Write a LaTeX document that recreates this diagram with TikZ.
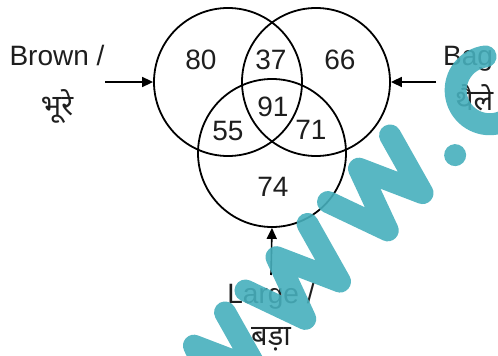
\documentclass[tikz,border=0pt]{standalone}
\usepackage{fontspec}
\setmainfont{Liberation Sans}
\newfontfamily\hindifont[Script=Devanagari]{Noto Sans}
\usetikzlibrary{arrows.meta}
\definecolor{wmteal}{RGB}{70,175,188}
\definecolor{inkgray}{RGB}{30,30,30}

\begin{document}
\begin{tikzpicture}[x=1pt,y=-1pt,
    set/.style={circle, draw, line width=1.8pt, inner sep=0pt, minimum size=148pt},
    region/.style={font=\fontsize{28}{30}\selectfont, text=inkgray, inner sep=0pt},
    tag/.style={font=\fontsize{28}{30}\selectfont, text=inkgray, inner sep=0pt, anchor=base},
    hindi/.style={font=\fontsize{29}{31}\selectfont\hindifont, text=inkgray, inner sep=0pt, anchor=base},
    pointer/.style={line width=1.6pt, -{Triangle[length=11pt,width=10pt]}},
    wm/.style={wmteal, opacity=0.9, line width=22pt, line cap=round, line join=round}]
   \useasboundingbox (0,0) rectangle (498,356);
   % the three sets
   \node[set] (brown) at (228,82)  {};
   \node[set] (bag)   at (316,82)  {};
   \node[set] (large) at (272,153) {};
   % counts
   \node[region] (n80) at (201,60)  {80};
   \node[region] (n37) at (271,60)  {37};
   \node[region] (n66) at (340,60)  {66};
   \node[region] (n91) at (273,107) {91};
   \node[region] (n55) at (228,131) {55};
   \node[region] (n71) at (311,130) {71};
   \node[region] (n74) at (273,187) {74};
   % names
   \node[tag] (brownen) at (57,65) {Brown /};
   \node[hindi] (brownhi) at (57,115) {भूरे};
   \node[tag, anchor=base west] (bagen) at (443,65) {Bag};
   \node[hindi, anchor=base west] (baghi) at (455,110) {थैले};
   \node[tag] (largeen) at (271,303) {Large /};
   \node[hindi] (largehi) at (271,345) {बड़ा};
   \coordinate (browntail) at (105,82);
   \coordinate (bagtail)   at (436,82);
   \coordinate (largetail) at (271,275);
   \draw[pointer] (browntail) -- (brown.west);
   \draw[pointer] (bagtail) -- (bag.east);
   \draw[pointer] (largetail) -- (large.south);
   % watermark
   \begin{scope}
     \clip (0,0) rectangle (498,356);
     \begin{scope}[shift={(328,202)}, rotate=47, yscale=-1]
       \foreach \dx in {-242,-121,0}
         \draw[wm] (\dx,0) -- ++(20,-63) -- ++(25.5,63) -- ++(25.5,-63) -- ++(20,63);
       \fill[wmteal, opacity=0.9] (121,-61) circle[radius=11];
       \draw[wm] (192,-42) ++(50:34) arc[start angle=50, end angle=310, radius=34];
     \end{scope}
   \end{scope}
\end{tikzpicture}
\end{document}
